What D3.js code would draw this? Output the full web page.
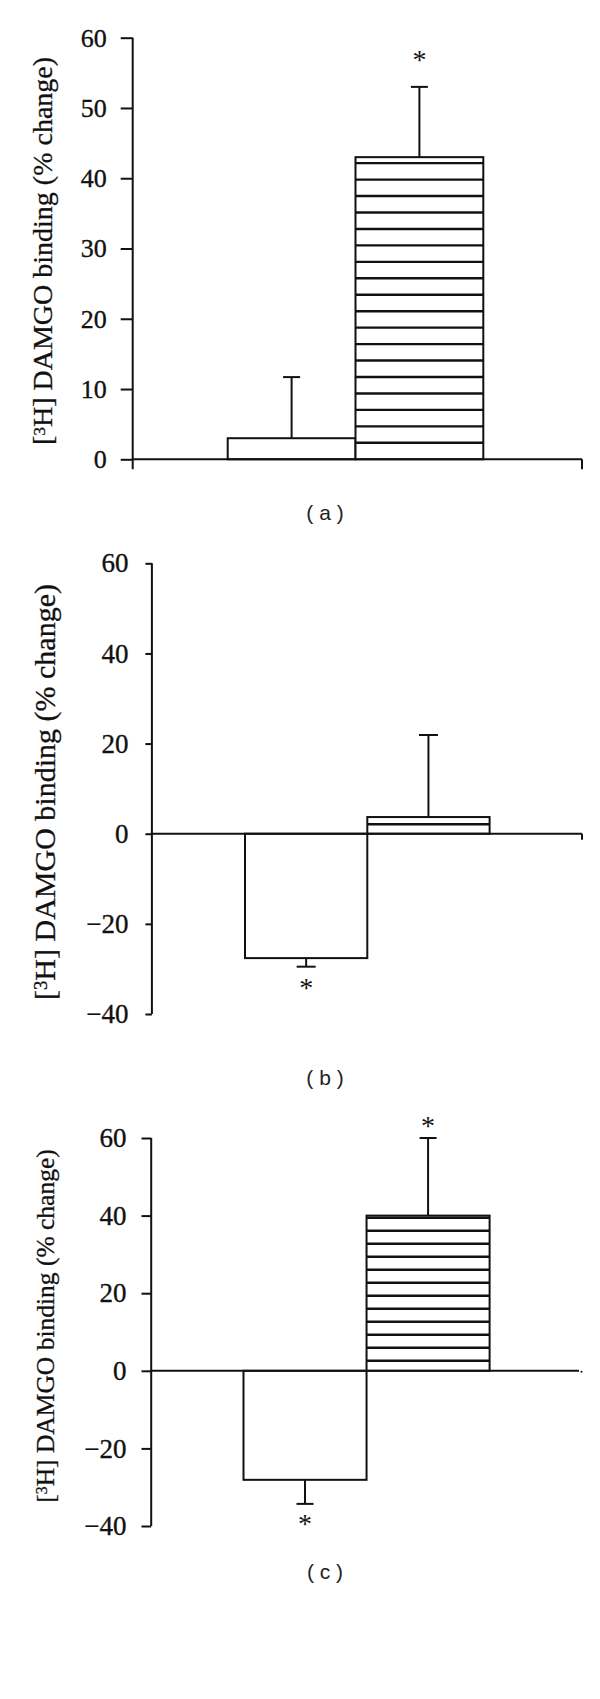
<!DOCTYPE html>
<html>
<head>
<meta charset="utf-8">
<script src="https://cdn.jsdelivr.net/npm/d3@7"></script>
<style>
  body { margin: 0; background: #fff; }
  svg { display: block; }
</style>
</head>
<body>
<script>
// groups: plain bar first, hatched bar second
var groups = ["control", "treated"];

// panel (a)
var meanA = [3, 43];
var errA = [8.7, 10];
var starA = ["", "*"];
var ticksA = [0, 10, 20, 30, 40, 50, 60];

// panel (b)
var meanB = [-27.6, 3.7];
var errB = [1.9, 18.2];
var starB = ["*", ""];
var ticksB = [-40, -20, 0, 20, 40, 60];

// panel (c)
var meanC = [-28.1, 40];
var errC = [6.2, 20];
var starC = ["*", "*"];
var ticksC = [-40, -20, 0, 20, 40, 60];

var captions = ["( a )", "( b )", "( c )"];

// layout for each panel (pixels)
var panels = [
  {mean: meanA, err: errA, star: starA, ticks: ticksA, caption: captions[0],
   axisX: 132.7, yTop: 37.7, yBot: 459.3, barL: 227.7, barR: 483.3, xEnd: 582,
   tickLen: 12, tickPad: 14, ext: 10, endTick: 10, endDot: false,
   labX: 52, labY: 251, labSize: 28, tickSize: 26,
   stripeOff: 16.5, stripeSp: 16.45, capW: 17, starGap: 31, capY: 520},
  {mean: meanB, err: errB, star: starB, ticks: ticksB, caption: captions[1],
   axisX: 151.9, yTop: 563.3, yBot: 1014, barL: 245, barR: 489.6, xEnd: 582,
   tickLen: 6.5, tickPad: 17, ext: 0, endTick: 6, endDot: false,
   labX: 55, labY: 792, labSize: 30, tickSize: 27,
   stripeOff: 9.4, stripeSp: 13, capW: 19, starGap: 17, capY: 1085},
  {mean: meanC, err: errC, star: starC, ticks: ticksC, caption: captions[2],
   axisX: 151.2, yTop: 1138, yBot: 1526, barL: 243.5, barR: 489.6, xEnd: 579,
   tickLen: 9.7, tickPad: 15, ext: 0, endTick: 0, endDot: true,
   labX: 54, labY: 1326, labSize: 25.5, tickSize: 27,
   stripeOff: 10, stripeSp: 13, capW: 17, starGap: 16, capY: 1579}
];

var ink = "#111";
var serif = "'Liberation Serif', 'Times New Roman', serif";

var svg = d3.select("body").append("svg")
    .attr("width", 600)
    .attr("height", 1699);

svg.append("rect").attr("width", 600).attr("height", 1699).attr("fill", "#fff");

panels.forEach(function(p) {
  var y = d3.scaleLinear()
      .domain([d3.min(p.ticks), d3.max(p.ticks)])
      .range([p.yBot, p.yTop]);

  var x = d3.scaleBand()
      .domain(groups)
      .range([p.barL, p.barR])
      .padding(0);

  var g = svg.append("g");

  // y axis ticks + labels
  var yAxis = d3.axisLeft(y)
      .tickValues(p.ticks)
      .tickSize(p.tickLen)
      .tickPadding(p.tickPad)
      .tickSizeOuter(0);

  var ax = g.append("g")
      .attr("transform", "translate(" + p.axisX + ",0)")
      .attr("font-family", serif)
      .attr("font-size", p.tickSize)
      .call(yAxis);
  ax.attr("font-family", serif).attr("font-size", p.tickSize);
  ax.select(".domain").remove();
  ax.selectAll(".tick line").attr("stroke", ink).attr("stroke-width", 2);
  ax.selectAll(".tick text")
      .attr("fill", ink)
      .attr("stroke", ink)
      .attr("stroke-width", 0.35);

  // y axis line
  g.append("line")
      .attr("x1", p.axisX).attr("x2", p.axisX)
      .attr("y1", y(d3.max(p.ticks)))
      .attr("y2", y(d3.min(p.ticks)) + p.ext)
      .attr("stroke", ink).attr("stroke-width", 2);

  // bars
  groups.forEach(function(grp, i) {
    var v = p.mean[i];
    var top = y(Math.max(0, v));
    var h = Math.abs(y(v) - y(0));

    g.append("rect")
        .attr("x", x(grp))
        .attr("y", top)
        .attr("width", x.bandwidth())
        .attr("height", h)
        .attr("fill", "#fff")
        .attr("stroke", ink)
        .attr("stroke-width", 2);

    // horizontal hatching on second group
    if (i == 1) {
      for (var s = y(0) - p.stripeOff; s > y(v) + 2; s -= p.stripeSp) {
        g.append("line")
            .attr("x1", x(grp)).attr("x2", x(grp) + x.bandwidth())
            .attr("y1", s).attr("y2", s)
            .attr("stroke", ink).attr("stroke-width", 2.4);
      }
    }

    // error bar
    var cx = x(grp) + x.bandwidth() / 2;
    var sign = v < 0 ? -1 : 1;
    var end = y(v + sign * p.err[i]);
    g.append("line")
        .attr("x1", cx).attr("x2", cx)
        .attr("y1", y(v)).attr("y2", end)
        .attr("stroke", ink).attr("stroke-width", 2);
    g.append("line")
        .attr("x1", cx - p.capW / 2).attr("x2", cx + p.capW / 2)
        .attr("y1", end).attr("y2", end)
        .attr("stroke", ink).attr("stroke-width", 2);

    if (p.star[i]) {
      var sy = end - sign * p.starGap;
      g.append("text")
          .attr("x", cx)
          .attr("y", sy + 0.47 * 28)
          .attr("text-anchor", "middle")
          .attr("fill", ink)
          .style("font-family", serif)
          .style("font-size", "28px")
          .text(p.star[i]);
    }
  });

  // x axis (zero line)
  g.append("line")
      .attr("x1", p.axisX).attr("x2", p.xEnd)
      .attr("y1", y(0)).attr("y2", y(0))
      .attr("stroke", ink).attr("stroke-width", 2);
  if (p.endTick > 0) {
    g.append("line")
        .attr("x1", p.xEnd).attr("x2", p.xEnd)
        .attr("y1", y(0)).attr("y2", y(0) + p.endTick)
        .attr("stroke", ink).attr("stroke-width", 2);
  }
  if (p.endDot) {
    g.append("circle")
        .attr("cx", p.xEnd + 2.5).attr("cy", y(0) + 1)
        .attr("r", 1).attr("fill", ink);
  }

  // y label
  var lab = g.append("text")
      .attr("transform", "translate(" + p.labX + "," + p.labY + ")rotate(-90)")
      .attr("text-anchor", "middle")
      .attr("fill", ink)
      .attr("stroke", ink)
      .attr("stroke-width", 0.3)
      .style("font-family", serif)
      .style("font-size", p.labSize + "px");
  lab.append("tspan").text("[");
  lab.append("tspan").attr("dy", "-0.42em").style("font-size", "62%").text("3");
  lab.append("tspan").attr("dy", "0.26em").text("H] DAMGO binding (% change)");

  // panel caption
  svg.append("text")
      .attr("x", 325)
      .attr("y", p.capY)
      .attr("text-anchor", "middle")
      .attr("fill", "#222")
      .style("font-family", "'Liberation Sans', Arial, sans-serif")
      .style("font-size", "21px")
      .text(p.caption);
});
</script>
</body>
</html>
